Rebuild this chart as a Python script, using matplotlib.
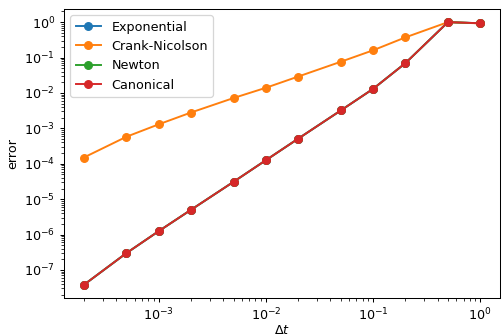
import matplotlib
matplotlib.use("Agg")
import matplotlib.pyplot as plt

dt = [2e-4, 5e-4, 1e-3, 2e-3, 5e-3, 1e-2, 2e-2, 5e-2, 1e-1, 2e-1, 5e-1, 1.0]
exponential = [3.8e-8, 3.0e-7, 1.25e-6, 5.0e-6, 3.1e-5, 1.26e-4, 5.1e-4, 3.2e-3, 1.3e-2, 6.9e-2, 1.0, 0.93]
crank_nicolson = [1.5e-4, 5.8e-4, 1.3e-3, 2.8e-3, 7.2e-3, 1.4e-2, 2.9e-2, 7.6e-2, 1.6e-1, 3.7e-1, 1.0, 0.92]
newton = [3.8e-8, 3.0e-7, 1.25e-6, 5.0e-6, 3.1e-5, 1.26e-4, 5.1e-4, 3.2e-3, 1.3e-2, 6.9e-2, 1.0, 0.93]
canonical = [3.8e-8, 3.0e-7, 1.25e-6, 5.0e-6, 3.1e-5, 1.26e-4, 5.1e-4, 3.2e-3, 1.3e-2, 6.9e-2, 1.0, 0.93]

DPI = 92
fig = plt.figure(figsize=(504 / DPI, 335 / DPI), dpi=DPI)
ax = fig.add_axes([64 / 504, 37 / 335, 436 / 504, 289 / 335])
for name, vals in [("Exponential", exponential), ("Crank-Nicolson", crank_nicolson),
                   ("Newton", newton), ("Canonical", canonical)]:
    ax.loglog(dt, vals, "o-", label=name)
ax.set_xlabel(r"$\Delta t$", labelpad=0)
ax.set_ylabel("error")
ax.legend(loc="upper left")
fig.savefig("out.png", dpi=DPI)
